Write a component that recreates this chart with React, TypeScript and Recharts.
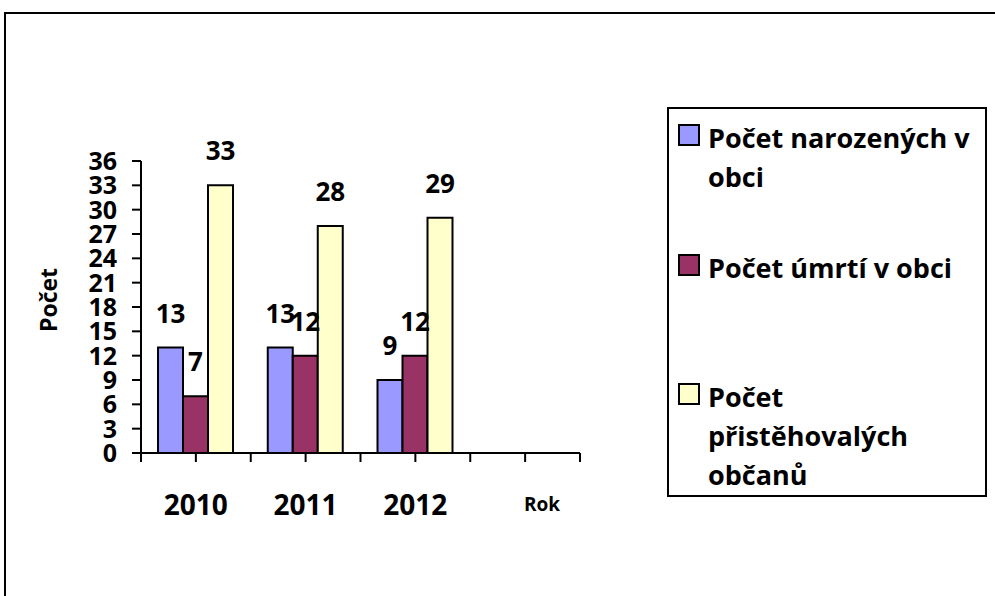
import { BarChart, Bar, XAxis, YAxis, Legend, LabelList } from "recharts";

const years = ["2010", "2011", "2012", ""];
const narozeni = [13, 13, 9, null];
const umrti = [7, 12, 12, null];
const pristehovali = [33, 28, 29, null];
const yTicks = [0, 3, 6, 9, 12, 15, 18, 21, 24, 27, 30, 33, 36];
const xTickPositions = [-0.5, 0, 0.5, 1, 1.5, 2, 2.5, 3, 3.5];

const seriesNames = ["Počet narozených v obci", "Počet úmrtí v obci", "Počet přistěhovalých občanů"];
const legendLines = [["Počet narozených v", "obci"], ["Počet úmrtí v obci"], ["Počet", "přistěhovalých", "občanů"]];
const colors = ["#9999FF", "#993366", "#FFFFCC"];

const data = years.map((y, i) => ({
  year: y,
  narozeni: narozeni[i],
  umrti: umrti[i],
  pristehovali: pristehovali[i],
  pos: i,
}));

const FONT = "'Open Sans', 'Noto Sans', sans-serif";

function LegendBox() {
  return (
    <div
      style={{
        width: 320,
        height: 390,
        border: "2px solid #000",
        boxSizing: "border-box",
        background: "#fff",
        fontFamily: FONT,
        fontWeight: 700,
        fontSize: 27,
        color: "#000",
        paddingTop: 9,
      }}
    >
      {legendLines.map((lines, i) => (
        <div key={i} style={{ height: 129.5, position: "relative" }}>
          <div
            style={{
              position: "absolute",
              left: 9,
              top: 6,
              width: 22,
              height: 22,
              border: "2px solid #000",
              boxSizing: "border-box",
              background: colors[i],
            }}
          />
          <div style={{ position: "absolute", left: 39, top: 0, lineHeight: "39px" }}>
            {lines.map((l, j) => (
              <div key={j} style={{ whiteSpace: "nowrap" }}>{l}</div>
            ))}
          </div>
        </div>
      ))}
    </div>
  );
}

export default function App() {
  const labelStyle = { fill: "#000", fontSize: 26, fontWeight: 700, fontFamily: FONT };
  return (
    <div style={{ position: "absolute", left: 0, top: 0, width: 995, height: 596, overflow: "hidden", background: "#fff" }}>
      <div
        style={{
          position: "absolute",
          left: 4,
          top: 12,
          width: 1000,
          height: 600,
          borderTop: "2px solid #000",
          borderLeft: "2px solid #000",
        }}
      />
      <BarChart
        width={995}
        height={596}
        data={data}
        margin={{ top: 161, right: 415, bottom: 83, left: 31 }}
        barGap={0}
        barSize={25}
        style={{ position: "absolute", left: 0, top: 0 }}
      >
        <XAxis
          xAxisId="b"
          dataKey="year"
          height={59}
          axisLine={false}
          tickLine={false}
          tickSize={0}
          tickMargin={41}
          interval={0}
          tick={{ fill: "#000", fontSize: 28, fontWeight: 700, fontFamily: FONT }}
          label={{
            content: (props: any) => {
              const vb = props.viewBox;
              return (
                <text
                  x={vb.x + vb.width - 38}
                  y={vb.y + 57}
                  textAnchor="middle"
                  fill="#000"
                  fontSize={19}
                  fontWeight={700}
                  fontFamily={FONT}
                >
                  Rok
                </text>
              );
            },
          }}
        />
        <XAxis
          xAxisId="a"
          type="number"
          dataKey="pos"
          domain={[-0.5, 3.5]}
          ticks={xTickPositions}
          interval={0}
          tick={() => <g />}
          tickSize={9}
          height={1}
          axisLine={{ stroke: "#000", strokeWidth: 2 }}
          tickLine={{ stroke: "#000", strokeWidth: 2 }}
        />
        <YAxis
          domain={[0, 36]}
          ticks={yTicks}
          interval={0}
          width={110}
          tickSize={9}
          tickMargin={15}
          axisLine={{ stroke: "#000", strokeWidth: 2 }}
          tickLine={{ stroke: "#000", strokeWidth: 2 }}
          tick={{ fill: "#000", fontSize: 25, fontWeight: 700, fontFamily: FONT }}
          label={{
            content: (props: any) => {
              const vb = props.viewBox;
              const cx = vb.x + 17;
              const cy = vb.y + vb.height / 2 - 7;
              return (
                <text
                  x={cx}
                  y={cy}
                  transform={`rotate(-90 ${cx} ${cy})`}
                  textAnchor="middle"
                  dominantBaseline="central"
                  fill="#000"
                  fontSize={23}
                  fontWeight={700}
                  fontFamily={FONT}
                >
                  Počet
                </text>
              );
            },
          }}
        />
        <Legend
          layout="vertical"
          align="center"
          verticalAlign="middle"
          content={() => <LegendBox />}
          wrapperStyle={{ left: 667, top: 107, width: 320, height: 390, bottom: "auto", right: "auto" }}
        />
        {(["narozeni", "umrti", "pristehovali"] as const).map((key, i) => (
          <Bar
            key={key}
            xAxisId="b"
            dataKey={key}
            name={seriesNames[i]}
            fill={colors[i]}
            stroke="#000"
            strokeWidth={2}
            isAnimationActive={false}
          >
            <LabelList dataKey={key} position="top" offset={25} style={labelStyle} />
          </Bar>
        ))}
      </BarChart>
    </div>
  );
}
